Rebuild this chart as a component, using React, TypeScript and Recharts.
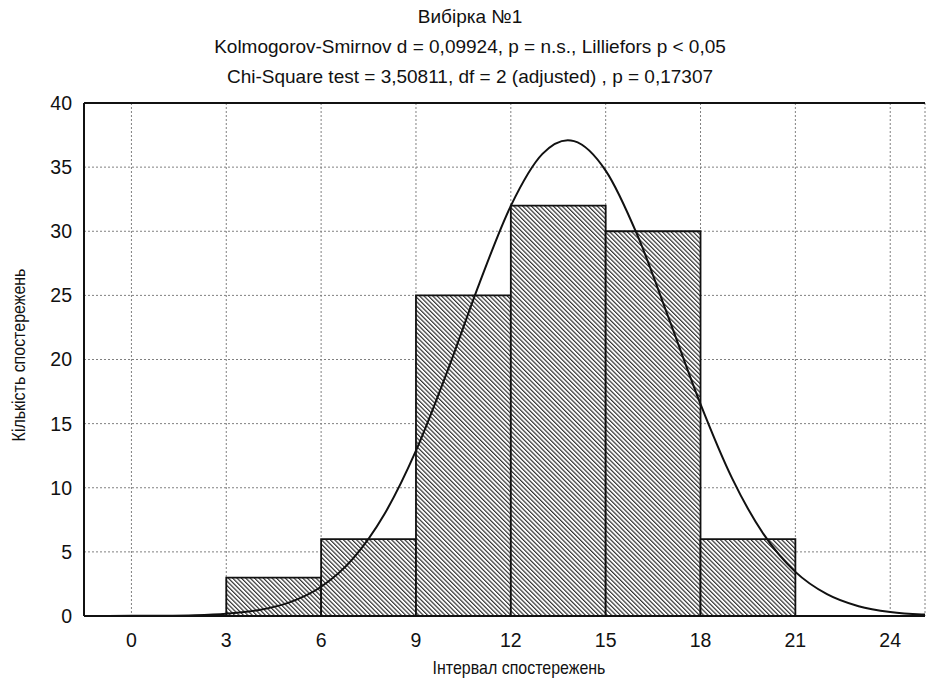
import React from "react";
import {
  ComposedChart,
  Line,
  XAxis,
  YAxis,
  CartesianGrid,
  ReferenceArea,
  ReferenceLine,
} from "recharts";

// histogram bins: [start, end) of each interval and observation count
const binStarts = [3, 6, 9, 12, 15, 18];
const binEnds = [6, 9, 12, 15, 18, 21];
const binCounts = [3, 6, 25, 32, 30, 6];

// fitted normal curve, sampled along the interval axis
const curveX = [-1.5, 0, 1, 2, 3, 4, 5, 6, 7, 8, 9, 10, 11, 12, 13, 13.8, 14, 15, 16, 17, 18, 19, 20, 21, 22, 23, 24, 25, 25.1];
const curveY = [0, 0.01, 0.02, 0.06, 0.18, 0.45, 1.06, 2.28, 4.45, 7.93, 12.89, 19.13, 25.9, 31.98, 36.03, 37.1, 37.03, 34.73, 29.71, 23.19, 16.52, 10.73, 6.36, 3.44, 1.7, 0.76, 0.31, 0.12, 0.11];

const xTicks = [0, 3, 6, 9, 12, 15, 18, 21, 24];
const yTicks = [0, 5, 10, 15, 20, 25, 30, 35, 40];

const titleLines = [
  "Вибірка №1",
  "Kolmogorov-Smirnov d = 0,09924, p = n.s., Lilliefors p < 0,05",
  "Chi-Square test = 3,50811, df = 2 (adjusted) , p = 0,17307",
];

const curveData = curveX.map((x, i) => ({ x, y: curveY[i] }));
const bins = binStarts.map((start, i) => ({ start, end: binEnds[i], count: binCounts[i] }));

const font = "'Liberation Sans', Arial, sans-serif";
const tickStyle = { fill: "#111", fontSize: 19.5, fontFamily: font };
// axis titles use a narrowed face, so the text is squeezed horizontally
const axisTitle = { position: "absolute" as const, fontSize: 19, lineHeight: "22px", whiteSpace: "nowrap" as const };

export default function App() {
  return (
    <div style={{ position: "absolute", left: 0, top: 0, width: 927, height: 681, background: "#fff", fontFamily: font, color: "#111" }}>
      {titleLines.map((line, i) => (
        <div
          key={line}
          style={{ position: "absolute", left: 0, width: 940, top: 6 + i * 30, textAlign: "center", fontSize: 19, lineHeight: "22px" }}
        >
          {line}
        </div>
      ))}
      <div style={{ ...axisTitle, left: 519, top: 668, transform: "translate(-50%, -50%) scaleX(0.84)" }}>
        Інтервал спостережень
      </div>
      <div style={{ ...axisTitle, left: 19, top: 355, transform: "translate(-50%, -50%) rotate(-90deg) scaleX(0.84)" }}>
        Кількість спостережень
      </div>
      <ComposedChart
        width={927}
        height={681}
        data={curveData}
        margin={{ top: 103, right: 2, bottom: 0, left: 0 }}
        style={{ position: "absolute", left: 0, top: 0 }}
      >
        <defs>
          <pattern id="hatch" patternUnits="userSpaceOnUse" width="3.1" height="3.1" patternTransform="rotate(-45)">
            <rect width="3.1" height="3.1" fill="#fff" />
            <line x1="0.6" y1="0" x2="0.6" y2="3.1" stroke="#333" strokeWidth="1.2" />
          </pattern>
        </defs>
        <CartesianGrid stroke="#808080" strokeDasharray="2 2" strokeWidth={1} />
        <XAxis
          dataKey="x"
          type="number"
          domain={[-1.5, 25.1]}
          allowDataOverflow
          ticks={xTicks}
          interval={0}
          tickLine={false}
          tickMargin={11}
          height={65}
          tick={tickStyle}
          axisLine={{ stroke: "#111", strokeWidth: 2 }}
        />
        <YAxis
          type="number"
          domain={[0, 40]}
          ticks={yTicks}
          interval={0}
          width={84}
          tickLine={false}
          tickMargin={6}
          tick={tickStyle}
          axisLine={{ stroke: "#111", strokeWidth: 2 }}
        />
        <ReferenceLine y={40} stroke="#111" strokeWidth={2} />
        {bins.map((b) => (
          <ReferenceArea
            key={b.start}
            x1={b.start}
            x2={b.end}
            y1={0}
            y2={b.count}
            fill="url(#hatch)"
            fillOpacity={1}
            stroke="#111"
            strokeWidth={1.8}
            ifOverflow="visible"
          />
        ))}
        <Line
          dataKey="y"
          type="monotone"
          stroke="#111"
          strokeWidth={2}
          dot={false}
          activeDot={false}
          isAnimationActive={false}
        />
      </ComposedChart>
    </div>
  );
}
